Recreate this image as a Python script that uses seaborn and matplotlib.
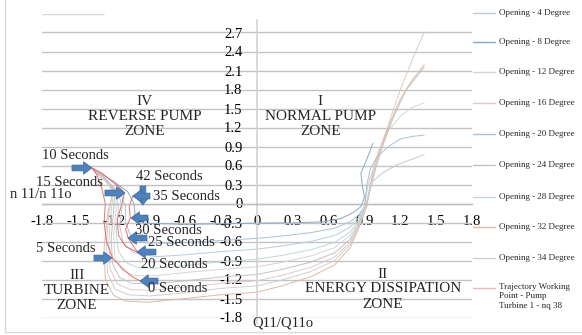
import matplotlib
matplotlib.use("Agg")
import matplotlib.pyplot as plt
import seaborn as sns
import pandas as pd
from matplotlib.lines import Line2D

# ---- characteristic curves: Q11/Q11o (x) against n11/n11o (y) ----
open4_q = [-1.36, -1.26, -1.16, -1.13, -1.15, -1.12, -1.03, -0.85, -0.6, -0.3, 0, 0.2, 0.45, 0.65, 0.78, 0.85, 0.90, 0.93, 0.95, 1.05, 1.17, 1.3, 1.4]
open4_n = [0.52, 0.34, 0.16, -0.05, -0.35, -0.62, -0.78, -0.84, -0.81, -0.76, -0.72, -0.673, -0.599, -0.506, -0.372, -0.224, -0.05, 0.1, 0.32, 0.48, 0.61, 0.70, 0.77]

open8_q = [-1.36, -1.2, -1.08, -1.03, -1.02, -0.95, -0.6, -0.3, 0, 0.3, 0.55, 0.7, 0.8, 0.87, 0.9, 0.88, 0.87, 0.92, 0.97]
open8_n = [0.53, 0.35, 0.18, 0.0, -0.2, -0.31, -0.33, -0.32, -0.31, -0.305, -0.29, -0.24, -0.15, -0.05, 0.1, 0.3, 0.48, 0.7, 0.95]

open12_q = [-1.37, -1.27, -1.18, -1.18, -1.20, -1.19, -1.13, -1.03, -0.85, -0.6, -0.3, 0, 0.2, 0.45, 0.65, 0.78, 0.85, 0.91, 0.95, 0.98, 1.02, 1.1, 1.2, 1.3, 1.4]
open12_n = [0.54, 0.36, 0.17, -0.10, -0.50, -0.85, -1.05, -1.14, -1.14, -1.09, -1.04, -1.0, -0.933, -0.829, -0.696, -0.506, -0.297, -0.05, 0.3, 0.6, 0.85, 1.15, 1.38, 1.52, 1.59]

open16_q = [-1.36, -1.27, -1.20, -1.22, -1.24, -1.23, -1.17, -1.06, -0.88, -0.6, -0.3, 0, 0.2, 0.45, 0.65, 0.78, 0.85, 0.90, 0.93, 1.0, 1.1, 1.2, 1.3, 1.4]
open16_n = [0.53, 0.37, 0.19, -0.10, -0.60, -1.03, -1.27, -1.36, -1.37, -1.32, -1.26, -1.22, -1.138, -1.009, -0.846, -0.612, -0.354, -0.05, 0.3, 0.7, 1.25, 1.8, 2.27, 2.71]

open20_q = [-1.34, -1.24, -1.14, -1.10, -1.10, -1.06, -0.95, -0.7, -0.35, 0, 0.2, 0.45, 0.65, 0.78, 0.85, 0.90, 0.92, 0.95, 1.0, 1.1, 1.2, 1.3, 1.4]
open20_n = [0.50, 0.33, 0.15, -0.05, -0.30, -0.50, -0.62, -0.63, -0.59, -0.55, -0.515, -0.46, -0.39, -0.29, -0.18, -0.05, 0.3, 0.55, 0.72, 0.9, 1.02, 1.06, 1.08]

open24_q = [-1.38, -1.28, -1.19, -1.20, -1.22, -1.21, -1.15, -1.05, -0.87, -0.6, -0.3, 0, 0.2, 0.45, 0.65, 0.78, 0.85, 0.91, 0.96, 1.0, 1.06, 1.15, 1.25, 1.4]
open24_n = [0.56, 0.38, 0.18, -0.10, -0.55, -0.95, -1.17, -1.26, -1.27, -1.22, -1.16, -1.12, -1.045, -0.927, -0.778, -0.564, -0.328, -0.05, 0.3, 0.6, 0.95, 1.4, 1.8, 2.15]

open28_q = [-1.35, -1.25, -1.17, -1.16, -1.18, -1.16, -1.10, -1.0, -0.85, -0.6, -0.3, 0, 0.2, 0.45, 0.65, 0.78, 0.85, 0.90, 0.94, 0.97]
open28_n = [0.48, 0.32, 0.14, -0.10, -0.45, -0.75, -0.93, -1.01, -1.02, -0.98, -0.92, -0.88, -0.822, -0.731, -0.614, -0.448, -0.266, -0.05, 0.15, 0.40]

open32_q = [-1.37, -1.27, -1.20, -1.25, -1.28, -1.27, -1.20, -1.10, -0.92, -0.6, -0.3, 0, 0.2, 0.45, 0.65, 0.78, 0.85, 0.92, 0.95, 1.0, 1.05, 1.12, 1.2, 1.3, 1.4]
open32_n = [0.55, 0.40, 0.22, -0.15, -0.70, -1.20, -1.45, -1.54, -1.56, -1.50, -1.44, -1.40, -1.305, -1.157, -0.968, -0.698, -0.401, -0.05, 0.3, 0.65, 0.95, 1.3, 1.65, 1.95, 2.19]

open34_q = [-1.35, -1.26, -1.21, -1.24, -1.26, -1.25, -1.19, -1.08, -0.9, -0.6, -0.3, 0, 0.2, 0.45, 0.65, 0.78, 0.85, 0.91, 0.95, 0.99]
open34_n = [0.50, 0.35, 0.18, -0.15, -0.65, -1.10, -1.35, -1.44, -1.46, -1.41, -1.34, -1.30, -1.212, -1.075, -0.90, -0.65, -0.375, -0.05, 0.25, 0.55]

# working point trajectory of pump turbine 1 during the transient
traj_q = [-0.98, -1.05, -1.13, -1.21, -1.26, -1.28, -1.27, -1.30, -1.34, -1.38, -1.30, -1.22, -1.15, -1.11, -1.13, -1.17, -1.16, -1.10, -1.00, -1.04, -1.08, -1.10, -1.06, -1.07, -1.04, -0.98, -0.95]
traj_n = [-1.22, -1.15, -1.02, -0.86, -0.60, -0.30, 0.0, 0.25, 0.45, 0.56, 0.48, 0.36, 0.25, 0.17, 0.0, -0.25, -0.50, -0.68, -0.77, -0.66, -0.54, -0.40, -0.23, -0.05, 0.12, 0.06, -0.02]

series_labels = ["Opening - 4 Degree", "Opening - 8 Degree", "Opening - 12 Degree",
                 "Opening - 16 Degree", "Opening - 20 Degree", "Opening - 24 Degree",
                 "Opening - 28 Degree", "Opening - 32 Degree", "Opening - 34 Degree"]
series_q = [open4_q, open8_q, open12_q, open16_q, open20_q, open24_q, open28_q, open32_q, open34_q]
series_n = [open4_n, open8_n, open12_n, open16_n, open20_n, open24_n, open28_n, open32_n, open34_n]
series_colors = ["#bccbd8", "#8aa8c6", "#d6d6d6", "#dccbcb", "#adc0d1",
                 "#c2c2c2", "#c2d6d9", "#dcbba5", "#cfcfcf"]
traj_label = "Trajectory Working\nPoint - Pump\nTurbine 1 - nq 38"
traj_color = "#e8484a"
traj_legend_color = "#e9b8b8"

# time marks along the trajectory: label, text anchor, arrow tail, arrow tip
time_labels = ["10 Seconds", "15 Seconds", "42 Seconds", "35 Seconds", "30 Seconds",
               "25 Seconds", "5 Seconds", "20 Seconds", "0 Seconds"]
time_text_xy = [(-1.80, 0.765), (-1.851, 0.324), (-1.013, 0.419), (-0.871, 0.118), (-1.022, -0.419),
                (-0.913, -0.608), (-1.851, -0.703), (-0.972, -0.956), (-0.913, -1.335)]
time_tail_xy = [(-1.549, 0.561), (-1.273, 0.166), (-0.955, 0.276), (-0.896, 0.118), (-0.913, -0.229),
                (-0.921, -0.545), (-1.365, -0.861), (-0.846, -0.766), (-0.829, -1.224)]
time_tip_xy = [(-1.382, 0.561), (-1.106, 0.166), (-0.955, -0.024), (-1.039, 0.118), (-1.055, -0.229),
               (-1.080, -0.545), (-1.214, -0.861), (-1.005, -0.766), (-0.980, -1.224)]

x_ticks = [-1.8, -1.5, -1.2, -0.9, -0.6, -0.3, 0, 0.3, 0.6, 0.9, 1.2, 1.5, 1.8]
y_ticks = [-1.8, -1.5, -1.2, -0.9, -0.6, -0.3, 0, 0.3, 0.6, 0.9, 1.2, 1.5, 1.8, 2.1, 2.4, 2.7]

zone_texts = ["IV\nREVERSE PUMP\nZONE", "I\nNORMAL PUMP\nZONE", "III\nTURBINE\nZONE", "II\nENERGY DISSIPATION\nZONE"]
zone_xy = [(-0.94, 1.37), (0.53, 1.37), (-1.51, -1.37), (1.055, -1.35)]

# ---- figure ----
sns.set_style("white")
plt.rcParams["font.family"] = ["Liberation Serif", "DejaVu Serif"]

W, H = 582, 335
fig = plt.figure(figsize=(W / 100, H / 100), dpi=100)
ax = fig.add_axes([42 / W, 1 - 317.5 / H, 430 / W, (317.5 - 13.5) / H])

rows = []
for lab, qs, ns in zip(series_labels, series_q, series_n):
    for i, (q, n) in enumerate(zip(qs, ns)):
        rows.append({"series": lab, "order": i, "Q": q, "n": n})
df = pd.DataFrame(rows)
sns.lineplot(data=df, x="Q", y="n", hue="series", palette=dict(zip(series_labels, series_colors)),
             sort=False, estimator=None, legend=False, linewidth=0.7, ax=ax)

traj_df = pd.DataFrame({"Q": traj_q, "n": traj_n})
sns.lineplot(data=traj_df, x="Q", y="n", sort=False, estimator=None, color=traj_color,
             linewidth=0.7, alpha=0.8, ax=ax)

ax.set_xlim(-1.8, 1.8)
ax.set_ylim(-1.8, 3.0)
ax.set_xticks(x_ticks)
ax.set_yticks(y_ticks)
fmt = lambda v: "0" if v == 0 else f"{v:.1f}"
ax.set_xticklabels([fmt(v) for v in x_ticks])
ax.set_yticklabels([fmt(v) for v in y_ticks])
ax.set_xlabel("")
ax.set_ylabel("")

ax.yaxis.grid(True, color="#c3c3c3", linewidth=1.0)
ax.xaxis.grid(False)
ax.set_axisbelow(True)
ax.hlines(3.0, -1.8, -1.28, color="#d6d6d6", linewidth=1.0, zorder=0)

for side in ("top", "right"):
    ax.spines[side].set_visible(False)
ax.spines["left"].set_position(("data", 0))
ax.spines["bottom"].set_position(("data", 0))
ax.spines["left"].set_color("#d3d3d3")
ax.spines["left"].set_linewidth(1.2)
ax.spines["left"].set_bounds(-1.88, 2.9)
ax.spines["bottom"].set_color("#bdbdbd")
ax.spines["bottom"].set_linewidth(1.0)

ax.tick_params(axis="y", length=0, pad=10.5, labelsize=10.5, labelcolor="black")
ax.tick_params(axis="x", direction="in", length=3, width=0.8, color="#bdbdbd",
               pad=8, labelsize=10.5, labelcolor="black")

for txt, (zx, zy) in zip(zone_texts, zone_xy):
    ax.text(zx, zy, txt, ha="center", va="center", fontsize=11, linespacing=1.2)

for lab, txy, tail, tip in zip(time_labels, time_text_xy, time_tail_xy, time_tip_xy):
    ax.annotate("", xy=tip, xytext=tail,
                arrowprops=dict(arrowstyle="simple,head_length=0.6,head_width=0.9,tail_width=0.42",
                                fc="#4f81bd", ec="#3b6696", lw=0.5, shrinkA=0, shrinkB=0),
                zorder=5)
    ax.text(txy[0], txy[1], lab, ha="left", va="center", fontsize=10.5, zorder=6)

fig.text(10 / W, 1 - 195 / H, "n 11/n 11o", ha="left", va="center", fontsize=10.5)
fig.text(252 / W, 1 - 323 / H, "Q11/Q11o", ha="left", va="center", fontsize=10.5)

# legend column on the right
legend_rows = [13, 42, 72, 103, 134, 165, 197, 227, 258]
for lab, col, ypx in zip(series_labels, series_colors, legend_rows):
    yf = 1 - ypx / H
    fig.add_artist(Line2D([473 / W, 495 / W], [yf, yf], color=col, linewidth=1.0))
    fig.text(499 / W, yf, lab, ha="left", va="center", fontsize=6.5)
yf = 1 - 288 / H
fig.add_artist(Line2D([473 / W, 495 / W], [yf, yf], color=traj_legend_color, linewidth=1.0))
fig.text(499 / W, 1 - 283 / H, traj_label, ha="left", va="top", fontsize=6.5, linespacing=1.25)

# chart frame
fig.add_artist(Line2D([5 / W, 5 / W], [1 - 332 / H, 1.0], color="#d9d9d9", linewidth=1.0))
fig.add_artist(Line2D([5 / W, 1.0], [1 - 332 / H, 1 - 332 / H], color="#d9d9d9", linewidth=1.0))

fig.savefig("out.png", dpi=100)
